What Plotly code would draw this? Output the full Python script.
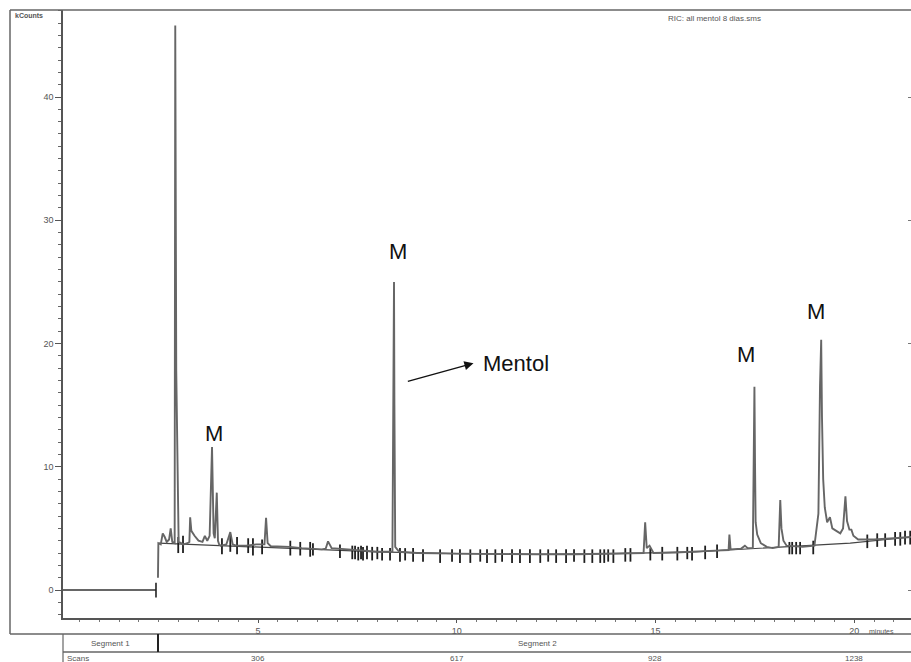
import plotly.graph_objects as go

# ---------------- data ----------------
# Segment 1: flat trace at zero
seg1_t = [0.09, 2.43]
seg1_y = [0.0, 0.0]
seg1_bar_t = [2.43, 2.43]
seg1_bar_y = [-0.6, 0.6]

# Segment 2 chromatogram (minutes, kCounts)
trace_t = [2.48, 2.49, 2.55, 2.60, 2.65, 2.70, 2.76, 2.80, 2.84, 2.90, 2.915, 2.925, 2.94,
           3.00, 3.12, 3.22, 3.27, 3.29, 3.32, 3.40, 3.50, 3.60, 3.66, 3.72, 3.78, 3.84, 3.86,
           3.88, 3.91, 3.96, 3.99, 4.02, 4.06, 4.20, 4.30, 4.36, 4.45, 4.70, 4.95, 5.16,
           5.20, 5.24, 5.32, 5.80, 6.10, 6.60, 6.70, 6.76, 6.85, 7.50, 8.00, 8.38, 8.42,
           8.43, 8.45, 8.55, 9.00, 10.00, 11.00, 12.00, 13.00, 14.00, 14.70, 14.74, 14.78,
           14.85, 14.95, 15.50, 16.00, 16.50, 16.84, 16.86, 16.89, 17.15, 17.25, 17.32,
           17.45, 17.49, 17.505, 17.52, 17.56, 17.65, 17.80, 17.95, 18.10, 18.14, 18.17,
           18.22, 18.30, 18.70, 19.00, 19.06, 19.10, 19.14, 19.17, 19.19, 19.22, 19.26,
           19.32, 19.39, 19.45, 19.55, 19.65, 19.72, 19.78, 19.82, 19.88, 19.93, 19.98,
           20.10, 20.50, 21.00, 21.43]
trace_y = [1.0, 3.8, 3.7, 4.6, 4.3, 3.9, 4.1, 5.0, 3.9, 3.8, 45.8, 22.0, 17.8,
           3.9, 3.7, 3.8, 3.9, 5.9, 4.8, 4.4, 4.0, 3.9, 4.4, 4.0, 4.4, 11.6, 7.9,
           4.6, 4.2, 7.9, 4.0, 3.7, 3.6, 3.7, 4.7, 3.7, 3.6, 3.6, 3.7, 3.7,
           5.85, 3.8, 3.55, 3.5, 3.4, 3.3, 3.35, 3.95, 3.4, 3.2, 3.1, 3.1, 25.0,
           15.0, 3.5, 3.1, 3.0, 2.95, 2.9, 2.9, 2.9, 2.95, 3.0, 5.5, 3.4,
           3.6, 3.0, 3.05, 3.1, 3.2, 3.25, 4.5, 3.3, 3.35, 3.6, 3.4,
           3.4, 16.5, 10.2, 5.5, 4.5, 3.8, 3.5, 3.4, 3.5, 7.3, 5.0,
           4.0, 3.6, 3.5, 3.6, 5.5, 6.2, 16.5, 20.3, 14.0, 9.0, 6.7,
           5.5, 5.9, 5.0, 4.8, 4.6, 5.0, 7.6, 5.6, 4.9, 4.9, 4.4,
           4.1, 4.1, 4.2, 4.3]

# Integration baseline
base_t = [2.50, 4.00, 6.00, 8.00, 10.00, 12.00, 14.00, 16.00, 17.40, 18.50, 19.90, 21.43]
base_y = [3.8, 3.6, 3.35, 3.1, 2.95, 2.9, 2.95, 3.1, 3.35, 3.55, 3.8, 4.3]

# Integration / noise tick marks
noise_t = [2.99, 3.11, 4.09, 4.30, 4.47, 4.75, 4.87, 5.10, 5.81, 6.06, 6.31, 6.38, 7.06,
           7.37, 7.44, 7.52, 7.59, 7.64, 7.74, 7.87, 8.00, 8.12, 8.32, 8.57, 8.70, 8.90,
           9.15, 9.58, 9.88, 10.08, 10.34, 10.59, 10.76, 10.97, 11.14, 11.39, 11.59, 11.84,
           12.10, 12.30, 12.50, 12.75, 12.95, 13.21, 13.41, 13.61, 13.71, 13.81, 13.94,
           14.24, 14.37, 14.87, 15.17, 15.55, 15.80, 15.92, 16.25, 16.55, 18.37, 18.44,
           18.54, 18.64, 18.97, 20.33, 20.58, 20.78, 21.03, 21.16, 21.28, 21.41]
noise_lo = [3.0, 3.0, 2.9, 3.1, 2.9, 3.0, 2.8, 2.9, 2.8, 2.8, 2.7, 2.8, 2.6,
            2.5, 2.5, 2.4, 2.5, 2.4, 2.5, 2.4, 2.5, 2.4, 2.4, 2.3, 2.4, 2.3,
            2.3, 2.2, 2.3, 2.2, 2.2, 2.3, 2.2, 2.2, 2.3, 2.2, 2.2, 2.2,
            2.2, 2.3, 2.2, 2.2, 2.3, 2.2, 2.2, 2.2, 2.2, 2.3, 2.2,
            2.3, 2.3, 2.4, 2.4, 2.4, 2.5, 2.4, 2.5, 2.6, 2.9, 2.9,
            2.9, 2.9, 2.9, 3.4, 3.5, 3.5, 3.6, 3.6, 3.7, 3.7]
noise_hi = [4.3, 4.4, 4.2, 4.5, 4.3, 4.2, 4.2, 4.1, 4.0, 3.9, 3.9, 3.8, 3.7,
            3.6, 3.6, 3.5, 3.6, 3.5, 3.6, 3.5, 3.5, 3.4, 3.4, 3.4, 3.4, 3.4,
            3.3, 3.3, 3.3, 3.3, 3.3, 3.3, 3.3, 3.3, 3.3, 3.3, 3.3, 3.3,
            3.3, 3.3, 3.3, 3.3, 3.3, 3.3, 3.3, 3.3, 3.3, 3.3, 3.3,
            3.4, 3.4, 3.4, 3.5, 3.5, 3.5, 3.5, 3.6, 3.7, 3.9, 3.9,
            3.9, 3.9, 4.0, 4.5, 4.6, 4.6, 4.7, 4.7, 4.8, 4.8]

# Peak labels
m_t = [3.89, 8.52, 17.27, 19.04]
m_y = [12.7, 27.5, 19.15, 22.6]
mentol_tail = (8.73, 16.9)
mentol_head = (10.42, 18.4)
mentol_text_at = (10.60, 18.4)

x_ticks = [5, 10, 15, 20]
scan_labels = ["306", "617", "928", "1238"]
scan_label_pos = [5, 10, 15, 20]

# ---------------- figure ----------------
fig = go.Figure()

fig.add_trace(go.Scatter(x=seg1_t, y=seg1_y, mode="lines",
                         line=dict(color="#333333", width=1.3), hoverinfo="skip"))
fig.add_trace(go.Scatter(x=seg1_bar_t, y=seg1_bar_y, mode="lines",
                         line=dict(color="#222222", width=1.6), hoverinfo="skip"))
fig.add_trace(go.Scatter(x=base_t, y=base_y, mode="lines",
                         line=dict(color="#444444", width=1.2), hoverinfo="skip"))

nx, ny = [], []
for t, lo, hi in zip(noise_t, noise_lo, noise_hi):
    nx += [t, t, None]
    ny += [lo, hi, None]
fig.add_trace(go.Scatter(x=nx, y=ny, mode="lines",
                         line=dict(color="#1e1e1e", width=1.8), hoverinfo="skip"))

fig.add_trace(go.Scatter(x=trace_t, y=trace_y, mode="lines",
                         line=dict(color="#666666", width=1.9), hoverinfo="skip"))

# right-hand tick marks
fig.add_trace(go.Scatter(x=[21.0], y=[0], yaxis="y2", mode="markers",
                         marker=dict(opacity=0), hoverinfo="skip"))

tickfont = dict(family="Liberation Sans, Arial, sans-serif", size=9, color="#555555")

fig.update_layout(
    width=911, height=662,
    margin=dict(l=63, r=0, t=10, b=44),
    paper_bgcolor="white", plot_bgcolor="white",
    showlegend=False,
    xaxis=dict(range=[0.09, 21.43], showgrid=False, zeroline=False,
               showline=True, linecolor="#555555", linewidth=1.5,
               ticks="outside", ticklen=3, tickcolor="#555555",
               tickvals=x_ticks, ticktext=[str(v) for v in x_ticks],
               tickfont=tickfont,
               minor=dict(ticks="outside", ticklen=2, dtick=0.5, tick0=0,
                          tickcolor="#777777")),
    yaxis=dict(range=[-2.27, 47.06], showgrid=False, zeroline=False,
               showline=True, linecolor="#555555", linewidth=1.5,
               ticks="outside", ticklen=6, tickcolor="#555555",
               dtick=10, tick0=0, tickfont=tickfont,
               minor=dict(ticks="outside", ticklen=3, dtick=1, tick0=0,
                          tickcolor="#666666")),
    yaxis2=dict(range=[-2.27, 47.06], overlaying="y", side="right",
                showgrid=False, zeroline=False, showline=False,
                ticks="inside", ticklen=3, tickcolor="#777777",
                dtick=10, tick0=0, showticklabels=False),
)

# frame lines (paper coords: plot area spans px 63..911, 10..618)
def px2xp(px):
    return (px - 63) / 848.0

def py2yp(py):
    return 1 - (py - 10) / 608.0

line_c = "#666666"
shapes = [
    dict(type="line", xref="paper", yref="paper", x0=px2xp(10), x1=1, y0=1, y1=1,
         line=dict(color=line_c, width=1.5)),
    dict(type="line", xref="paper", yref="paper", x0=px2xp(10), x1=px2xp(10),
         y0=1, y1=py2yp(634), line=dict(color=line_c, width=1.5)),
    dict(type="line", xref="paper", yref="paper", x0=px2xp(10), x1=1,
         y0=py2yp(634), y1=py2yp(634), line=dict(color=line_c, width=1.5)),
    dict(type="line", xref="paper", yref="paper", x0=0, x1=1,
         y0=py2yp(652), y1=py2yp(652), line=dict(color=line_c, width=1.5)),
    dict(type="line", xref="paper", yref="paper", x0=0, x1=0,
         y0=py2yp(634), y1=py2yp(662), line=dict(color=line_c, width=1.2)),
    dict(type="line", xref="paper", yref="paper", x0=px2xp(158), x1=px2xp(158),
         y0=py2yp(634), y1=py2yp(652), line=dict(color="#222222", width=2)),
]
fig.update_layout(shapes=shapes)

small = dict(family="Liberation Sans, Arial, sans-serif", size=8, color="#555555")
big = dict(family="Liberation Sans, Arial, sans-serif", size=22, color="#111111")

ann = []
for t, y in zip(m_t, m_y):
    ann.append(dict(x=t, y=y, xref="x", yref="y", text="M", showarrow=False,
                    xanchor="center", yanchor="middle", font=big))
ann.append(dict(x=mentol_head[0], y=mentol_head[1], ax=mentol_tail[0], ay=mentol_tail[1],
                xref="x", yref="y", axref="x", ayref="y", text="", showarrow=True,
                arrowhead=2, arrowsize=1.3, arrowwidth=1.4, arrowcolor="#111111"))
ann.append(dict(x=mentol_text_at[0], y=mentol_text_at[1], xref="x", yref="y",
                text="Mentol", showarrow=False, xanchor="left", yanchor="middle", font=big))

ann.append(dict(x=px2xp(13), y=1, xref="paper", yref="paper", text="<b>kCounts</b>",
                showarrow=False, xanchor="left", yanchor="top",
                font=dict(family="Liberation Sans, Arial", size=7, color="#555555")))
ann.append(dict(x=px2xp(666), y=py2yp(18), xref="paper", yref="paper",
                text="RIC: all mentol 8 dias.sms", showarrow=False, xanchor="left",
                yanchor="middle", font=small))
ann.append(dict(x=px2xp(867), y=py2yp(631), xref="paper", yref="paper",
                text="minutes", showarrow=False, xanchor="left", yanchor="middle",
                font=dict(family="Liberation Sans, Arial", size=7, color="#555555")))
ann.append(dict(x=px2xp(110), y=py2yp(643), xref="paper", yref="paper",
                text="Segment 1", showarrow=False, xanchor="center", yanchor="middle",
                font=small))
ann.append(dict(x=px2xp(537), y=py2yp(643), xref="paper", yref="paper",
                text="Segment 2", showarrow=False, xanchor="center", yanchor="middle",
                font=small))
ann.append(dict(x=px2xp(66), y=py2yp(653), xref="paper", yref="paper",
                text="Scans", showarrow=False, xanchor="left", yanchor="top",
                font=small, borderpad=0))
for pos, lab in zip(scan_label_pos, scan_labels):
    ann.append(dict(x=pos, y=py2yp(653), xref="x", yref="paper", text=lab,
                    showarrow=False, xanchor="center", yanchor="top", font=small,
                    borderpad=0))
fig.update_layout(annotations=ann)

fig.write_html("out.html")
